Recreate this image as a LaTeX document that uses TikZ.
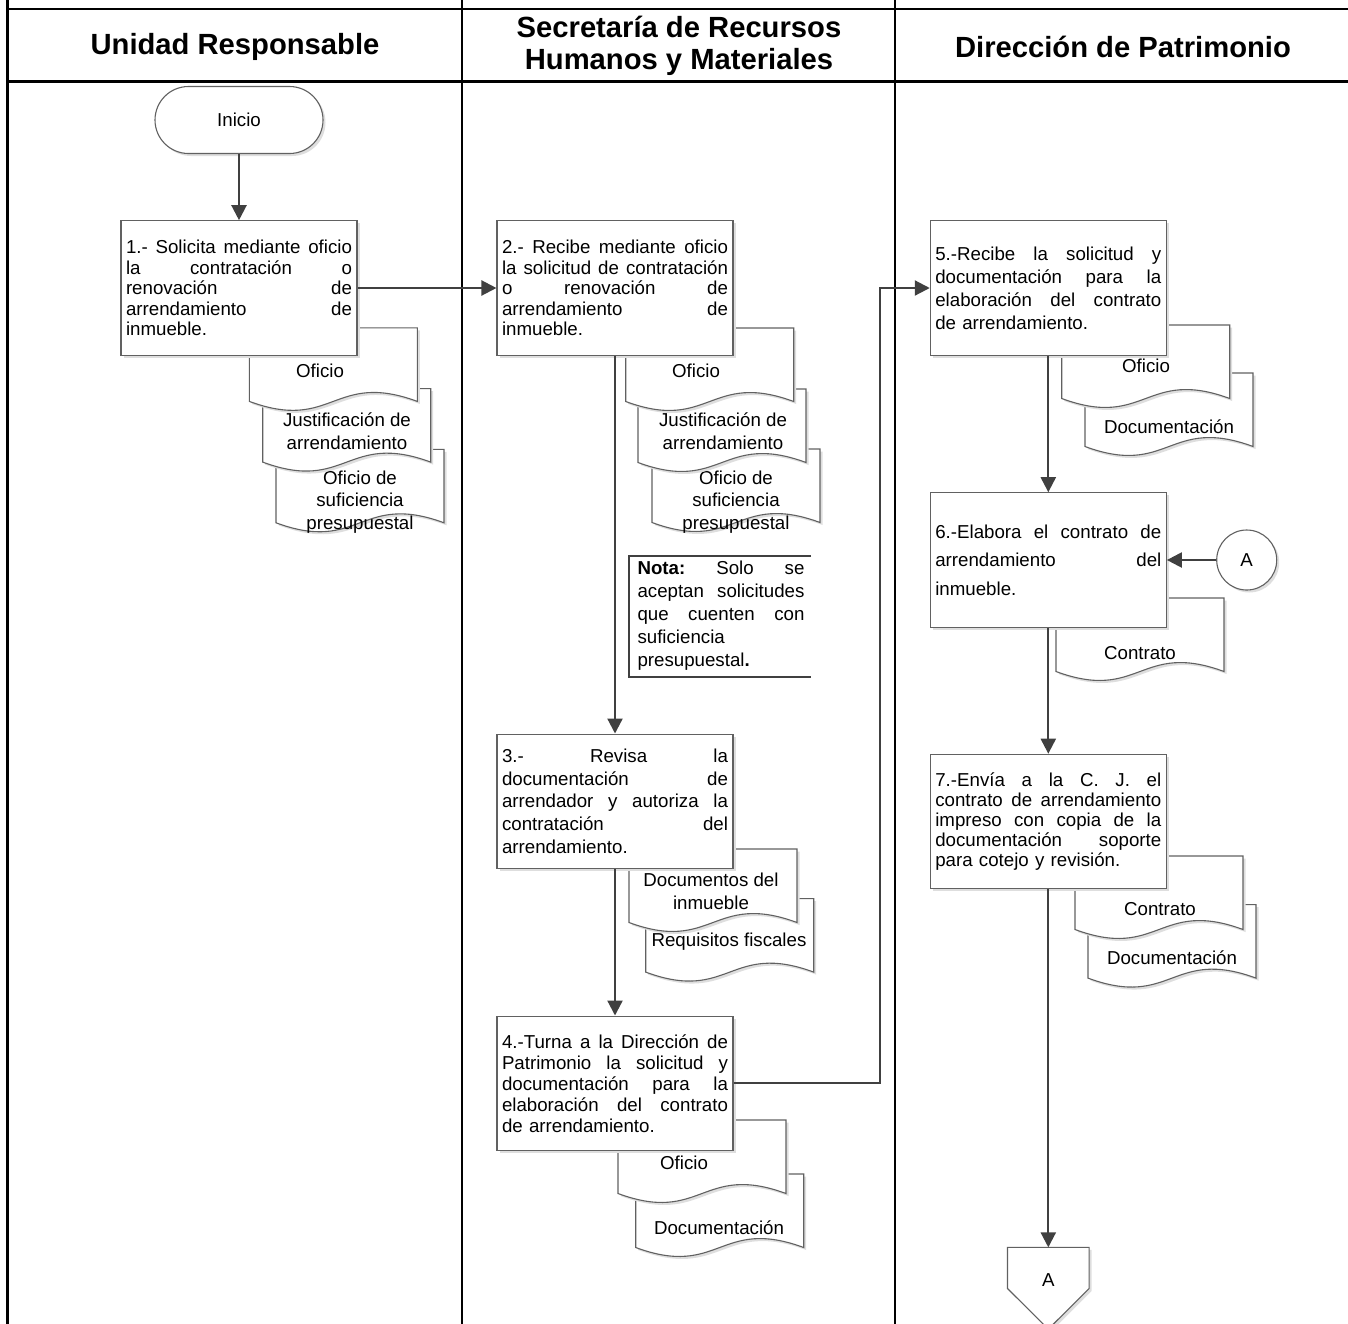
\documentclass[tikz,border=0pt]{standalone}
\usepackage{fontspec}
\setmainfont{Liberation Sans}
\usetikzlibrary{arrows.meta,shadows,calc}
\newcommand\jlw{226pt}
\newcommand\jl[1]{\makebox[\jlw][s]{\spaceskip=0.278em plus 1fil\relax\xspaceskip=0.278em plus 1fil\relax #1}}
\newcommand\fbody{\fontsize{18.7}{20.4}\selectfont}
\newcommand\fhead{\fontsize{29.2}{32.5}\selectfont\bfseries}
\tikzset{
  frame/.style={line width=2.6pt, draw=black, line cap=rect},
  shad/.style={drop shadow={shadow xshift=2.5pt, shadow yshift=-2.5pt, fill=black!13, opacity=1}},
  procbox/.style={shad, draw=black!62, line width=1.1pt, fill=white, minimum width=236pt, minimum height=134.5pt, text width=226pt, inner xsep=5pt, inner ysep=0pt, align=left, font=\fbody},
  docshape/.style={shad, draw=black!62, line width=1.1pt, fill=white},
  doctext/.style={font=\fontsize{18.7}{22.7}\selectfont, align=center, inner sep=0pt},
  flow/.style={draw=black!75, line width=2.2pt, -{Triangle[length=15pt,width=15pt]}},
  headtext/.style={font=\fhead, align=center, inner sep=0pt},
  notebox/.style={draw=black!75, line width=2pt},
}
\newcommand\docu[6]{%
  \begin{scope}[shift={(#2,#3)}]
    \path[docshape] (0,0) -- (168,0) -- (168,73.5) .. controls (84,42.5) and (84,104.5) .. (0,73.5) -- cycle;
  \end{scope}
  \node[doctext] (#1) at (#4,#5) {#6};
}
\begin{document}
\begin{tikzpicture}[x=1pt,y=-1pt]
\useasboundingbox (0,0) rectangle (1348,1323);
\clip (0,0) rectangle (1348,1323);

% frame
\draw[frame] (7.5,-5) -- (7.5,1330);
\draw[frame] (462,-5) -- (462,1330);
\draw[frame] (895,-5) -- (895,1330);
\draw[frame] (7.5,9) -- (1360,9);
\draw[frame] (7.5,81.5) -- (1360,81.5);

% headers
\node[headtext] (h1) at (235,47) {Unidad Responsable};
\node[headtext] (h2) at (679,46) {Secretaría de Recursos\\Humanos y Materiales};
\node[headtext] (h3) at (1123,47) {Dirección de Patrimonio};

% documents (back to front)
\docu{d1c}{276}{449.3}{360}{502}{Oficio de\\suficiencia\\presupuestal}
\docu{d1b}{262.7}{388.6}{347}{431.5}{Justificación de\\arrendamiento}
\docu{d1a}{249.3}{327.9}{320}{371}{Oficio}

\docu{d2c}{652}{449}{736}{502}{Oficio de\\suficiencia\\presupuestal}
\docu{d2b}{638}{389}{723}{431.5}{Justificación de\\arrendamiento}
\docu{d2a}{625.7}{328}{696}{371}{Oficio}

\docu{d3b}{645.7}{898.6}{729}{941.6}{Requisitos fiscales}
\docu{d3a}{629}{849}{711}{891}{Documentos del\\inmueble}

\docu{d4b}{635.7}{1174}{719}{1228}{Documentación}
\docu{d4a}{618}{1120}{684}{1163}{Oficio}

\docu{d5b}{1085}{373}{1169}{427}{Documentación}
\docu{d5a}{1061.7}{325}{1146}{366}{Oficio}

\docu{d6a}{1056}{598}{1140}{653}{Contrato}

\docu{d7b}{1088}{904.6}{1172}{958}{Documentación}
\docu{d7a}{1075}{856}{1160}{909}{Contrato}

% start
\node[shad, draw=black!62, line width=1.1pt, fill=white, rounded corners=33.5pt, minimum width=168pt, minimum height=67pt, font=\fbody] (inicio) at (239,120) {Inicio};

% process boxes
\node[procbox] (box1) at (239,288) {\jl{1.- Solicita mediante oficio}\\\jl{la contratación o}\\\jl{renovación de}\\\jl{arrendamiento de}\\inmueble.};
\node[procbox] (box2) at (615,288) {\jl{2.- Recibe mediante oficio}\\\jl{la solicitud de contratación}\\\jl{o renovación de}\\\jl{arrendamiento de}\\inmueble.};
\node[procbox, font=\fontsize{18.7}{22.9}\selectfont] (box3) at (615,801.3) {\jl{3.- Revisa la}\\\jl{documentación de}\\\jl{arrendador y autoriza la}\\\jl{contratación del}\\arrendamiento.};
\node[procbox, font=\fontsize{18.7}{21}\selectfont] (box4) at (615,1083.3) {\jl{4.-Turna a la Dirección de}\\\jl{Patrimonio la solicitud y}\\\jl{documentación para la}\\\jl{elaboración del contrato}\\de arrendamiento.};
\node[procbox, font=\fontsize{18.7}{23}\selectfont] (box5) at (1048.3,288) {\jl{5.-Recibe la solicitud y}\\\jl{documentación para la}\\\jl{elaboración del contrato}\\de arrendamiento.};
\node[procbox, font=\fontsize{18.7}{28.5}\selectfont] (box6) at (1048.3,560) {\jl{6.-Elabora el contrato de}\\\jl{arrendamiento del}\\inmueble.};
\node[procbox, font=\fontsize{18.7}{20.2}\selectfont] (box7) at (1048.3,821.5) {\jl{7.-Envía a la C. J. el}\\\jl{contrato de arrendamiento}\\\jl{impreso con copia de la}\\\jl{documentación soporte}\\para cotejo y revisión.};

% note
\draw[notebox] (811,555.7) -- (629.3,555.7) -- (629.3,676.7) -- (811,676.7);
\node[text width=167pt, inner sep=0pt, align=left, font=\fontsize{18.7}{23}\selectfont] (nota) at (721,615.5) {\renewcommand\jlw{167pt}\jl{\textbf{Nota:} Solo se}\\\jl{aceptan solicitudes}\\\jl{que cuenten con}\\suficiencia\\presupuestal\textbf{.}};

% connector A (on-page)
\node[shad, circle, draw=black!62, line width=1.1pt, fill=white, minimum size=60pt, inner sep=0pt, font=\fbody] (conA) at (1246.7,560) {A};

% off-page connector
\node[minimum width=81.3pt, minimum height=40.7pt, inner sep=0pt] (offp) at (1048.3,1267.9) {};
\path[shad, draw=black!62, line width=1.1pt, fill=white] (offp.north west) -- (offp.north east) -- (offp.south east) -- ($(offp.south)+(0,40.7)$) -- (offp.south west) -- cycle;
\node[font=\fbody, inner sep=0pt] (offA) at (1048.3,1280) {A};

% flows
\coordinate (turn) at (880,1083.3);
\draw[flow] (inicio.south) -- (box1.north);
\draw[flow] (box1.east) -- (box2.west);
\draw[flow] (box2.south) -- (box3.north);
\draw[flow] (box3.south) -- (box4.north);
\draw[flow] (box4.east) -- (turn) |- (box5.west);
\draw[flow] (box5.south) -- (box6.north);
\draw[flow] (conA.west) -- (box6.east);
\draw[flow] (box6.south) -- (box7.north);
\draw[flow] (box7.south) -- (offp.north);
\end{tikzpicture}
\end{document}
